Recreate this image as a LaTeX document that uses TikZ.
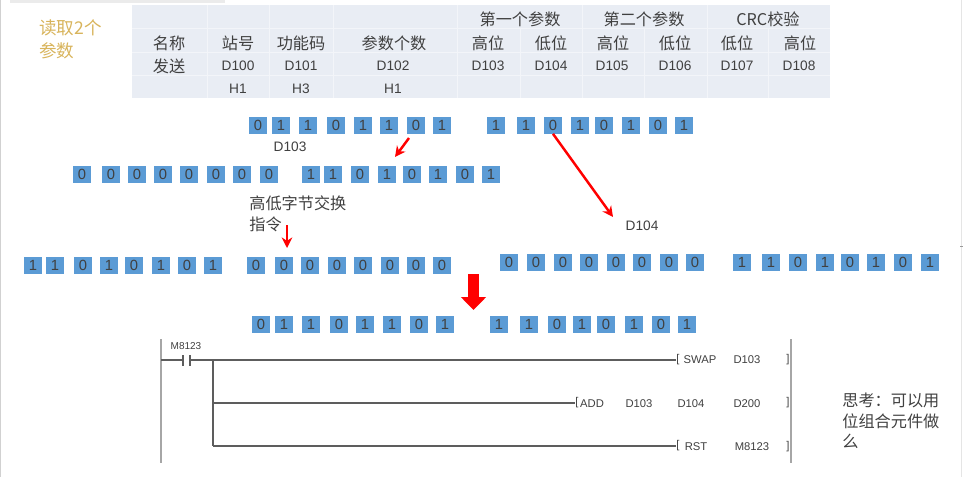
\documentclass[tikz,border=0pt]{standalone}
\usepackage{fontspec}
\setmainfont{Liberation Sans}
\newfontfamily\cjk{Noto Sans CJK SC}
\usetikzlibrary{arrows.meta}
\definecolor{bitblue}{HTML}{5B9BD5}
\definecolor{cellblue}{HTML}{E9EDF4}
\definecolor{celledge}{HTML}{F3F5F9}
\definecolor{titlegold}{HTML}{D8B45C}
\definecolor{darktext}{HTML}{404040}
\definecolor{railgray}{HTML}{A6A6A6}
\tikzset{
	bitbox/.style={fill=bitblue, minimum width=0.37cm, minimum height=0.34cm, inner sep=0pt, text=darktext, font=\fontsize{8.4}{0}\selectfont},
	cjklabel/.style={text=darktext, inner sep=0pt, font=\cjk\fontsize{9.2}{0}\selectfont},
	latinlabel/.style={text=darktext, inner sep=0pt, font=\fontsize{7.8}{0}\selectfont},
	ladderlabel/.style={text=darktext, inner sep=0pt, font=\fontsize{6.4}{0}\selectfont},
	redarrow/.style={draw=red, line width=1.4pt, -{Stealth[length=6pt,width=6pt]}},
	rung/.style={draw=darktext!85, line width=0.6pt},
	rail/.style={draw=railgray, line width=1.2pt},
	cellline/.style={draw=celledge, line width=0.5pt}
}
\begin{document}
\begin{tikzpicture}[x=0.02cm, y=-0.02cm]
	\useasboundingbox (0,0) rectangle (963,477);
	\draw[draw=black!18, line width=0.6pt] (0.5,0) -- (0.5,477);
	\fill[black!8] (10,0) rectangle (225,3);
	\draw[draw=black!10, line width=0.4pt] (961,0) -- (961,477);
	\draw[draw=black!40, line width=0.4pt] (960,246) -- (963,246);

	\node[text=titlegold, inner sep=0pt, anchor=north west, align=left, font=\cjk\fontsize{10}{13.5}\selectfont] (title) at (39,19) {读取2个\\参数};

	\fill[cellblue] (132,5) rectangle (830,98);
	\foreach \y in {28,52,75}
	\draw[cellline] (132,\y) -- (830,\y);
	\foreach \x in {207,269,333,457,582,707}
	\draw[cellline] (\x,5) -- (\x,98);
	\foreach \x in {520,644,768}
	\draw[cellline] (\x,28) -- (\x,98);

	\node[cjklabel] (firstpar) at (520,19) {第一个参数};
	\node[cjklabel] (secondpar) at (644,19) {第二个参数};
	\node[cjklabel] (crc) at (768,19) {CRC校验};
	\foreach \x/\t [count=\i] in {169/名称,238/站号,301/功能码,394/参数个数,488/高位,551/低位,613/高位,675/低位,737/低位,800/高位}
	\node[cjklabel] (head\i) at (\x,43) {\t};
	\node[cjklabel] (send) at (169,66) {发送};
	\foreach \x/\t [count=\i] in {238/D100,301/D101,393/D102,488/D103,551/D104,612/D105,675/D106,737/D107,799/D108}
	\node[latinlabel] (reg\i) at (\x,66) {\t};
	\foreach \x/\t [count=\i] in {238/H1,301/H3,393/H1}
	\node[latinlabel] (val\i) at (\x,89) {\t};

	\foreach \x/\b [count=\i] in {258/0,281/1,308/1,336/0,363/1,389/1,416/0,442/1,496/1,526/1,553/0,580/1,604/0,631/1,658/0,684/1}
	\node[bitbox] (rowa\i) at (\x,125) {\b};
	\foreach \x/\b [count=\i] in {82/0,111/0,137/0,163/0,189/0,216/0,242/0,269/0,311/1,333/1,360/0,387/1,412/0,438/1,465/0,491/1}
	\node[bitbox] (rowb\i) at (\x,174) {\b};
	\foreach \x/\b [count=\i] in {33/1,55/1,83/0,109/1,134/0,161/1,187/0,213/1,256/0,284/0,310/0,337/0,363/0,390/0,416/0,442/0}
	\node[bitbox] (rowc\i) at (\x,265) {\b};
	\foreach \x/\b [count=\i] in {509/0,536/0,563/0,589/0,616/0,642/0,669/0,695/0,742/1,771/1,798/0,825/1,850/0,876/1,903/0,930/1}
	\node[bitbox] (rowd\i) at (\x,262) {\b};
	\foreach \x/\b [count=\i] in {261/0,284/1,311/1,339/0,365/1,392/1,419/0,445/1,499/1,529/1,557/0,582/1,606/0,634/1,661/0,687/1}
	\node[bitbox] (rowe\i) at (\x,324) {\b};

	\node[latinlabel] (dhigh) at (290,147) {D103};
	\node[latinlabel] (dlow) at (642,226) {D104};
	\node[cjklabel, anchor=north west, align=left, font=\cjk\fontsize{9.2}{12}\selectfont] (swapnote) at (249,195) {高低字节交换\\指令};

	\coordinate (arrowa) at (409,138);
	\coordinate (arrowb) at (395,157);
	\coordinate (arrowc) at (613,217);
	\coordinate (arrowd) at (287,225);
	\coordinate (arrowe) at (287,248);
	\coordinate (bigtop) at (473.5,274);
	\coordinate (bigtip) at (473.5,310);
	\draw[redarrow] (arrowa) -- (arrowb);
	\draw[redarrow] (rowa11.south) -- (arrowc);
	\draw[redarrow] (arrowd) -- (arrowe);
	\draw[draw=red, line width=6.8pt, -{Triangle[length=7.4pt,width=14pt]}] (bigtop) -- (bigtip);

	\coordinate (lefttop) at (161,339);
	\coordinate (leftbot) at (161,463);
	\coordinate (righttop) at (791,339);
	\coordinate (rightbot) at (791,463);
	\coordinate (leftrung) at (161,360);
	\coordinate (contacta) at (183,360);
	\coordinate (contactb) at (190,360);
	\coordinate (branchtop) at (213,360);
	\coordinate (branchmid) at (213,403);
	\coordinate (branchbot) at (213,446);
	\draw[rail] (lefttop) -- (leftbot);
	\draw[rail] (righttop) -- (rightbot);

	\node[ladderlabel, font=\fontsize{5.7}{0}\selectfont] (contact) at (186,346) {M8123};
	\node[ladderlabel, anchor=west] (swapopen) at (676,360) {[};
	\node[ladderlabel, anchor=west] (addopen) at (575,403) {[};
	\node[ladderlabel, anchor=west] (rstopen) at (676,446) {[};
	\foreach \y/\n in {360/swapclose,403/addclose,447/rstclose}
	\node[ladderlabel] (\n) at (788,\y) {]};

	\draw[rung] (leftrung) -- (contacta);
	\draw[rung] (contactb) -- (swapopen.west);
	\draw[rung] (183,355) -- (183,366);
	\draw[rung] (190,355) -- (190,366);
	\draw[rung] (branchtop) -- (branchbot);
	\draw[rung] (branchmid) -- (addopen.west);
	\draw[rung] (branchbot) -- (rstopen.west);

	\node[ladderlabel] (swapcmd) at (700,360) {SWAP};
	\node[ladderlabel] (swapreg) at (747,360) {D103};
	\node[ladderlabel] (addcmd) at (592,404) {ADD};
	\node[ladderlabel] (addrega) at (639,404) {D103};
	\node[ladderlabel] (addregb) at (691,404) {D104};
	\node[ladderlabel] (addregc) at (747,404) {D200};
	\node[ladderlabel] (rstcmd) at (696,447) {RST};
	\node[ladderlabel] (rstreg) at (752,447) {M8123};

	\node[cjklabel, anchor=north west, align=left, font=\cjk\fontsize{9.2}{11.6}\selectfont] (thinknote) at (842,393) {思考：可以用\\位组合元件做\\么};
\end{tikzpicture}
\end{document}
